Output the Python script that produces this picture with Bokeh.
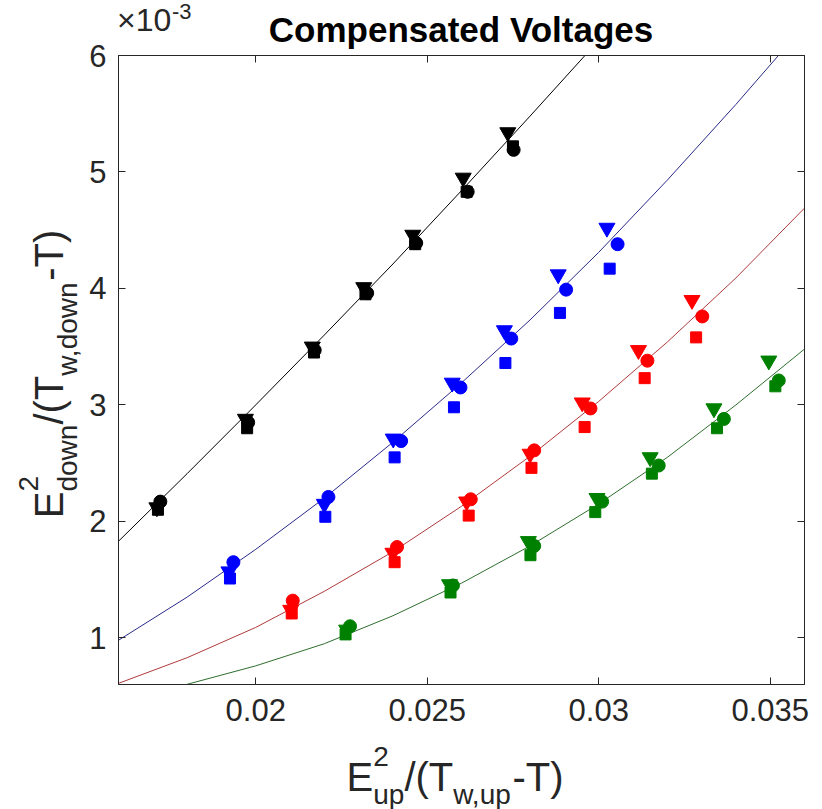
from bokeh.plotting import figure
from bokeh.models import Range1d, FixedTicker, LinearAxis, Div
from bokeh.layouts import column, row
from bokeh.embed import file_html
from bokeh.resources import INLINE

# ---------------- data (y values in units of 1e-3) ----------------
x_ticks = [0.02, 0.025, 0.03, 0.035]
x_tick_labels = ["0.02", "0.025", "0.03", "0.035"]
y_ticks = [1, 2, 3, 4, 5, 6]
y_tick_labels = ["1", "2", "3", "4", "5", "6"]

# black series
blk_circ_x = [0.01722, 0.01978, 0.02172, 0.02325, 0.02468, 0.02618, 0.02752]
blk_circ_y = [2.17, 2.85, 3.47, 3.96, 4.39, 4.83, 5.19]
blk_tri_x = [0.01712, 0.01970, 0.02165, 0.02315, 0.02458, 0.02605, 0.02735]
blk_tri_y = [2.12, 2.88, 3.50, 4.01, 4.46, 4.95, 5.34]
blk_sq_x = [0.01715, 0.01975, 0.02170, 0.02320, 0.02465, 0.02615, 0.02750]
blk_sq_y = [2.10, 2.80, 3.45, 3.95, 4.38, 4.83, 5.22]
blk_fit_x = [0.016, 0.018, 0.020, 0.022, 0.024, 0.026, 0.028, 0.0296]
blk_fit_y = [1.83, 2.41, 3.00, 3.60, 4.21, 4.84, 5.48, 6.00]

# blue series
blu_circ_x = [0.01935, 0.02212, 0.02424, 0.02597, 0.02745, 0.02905, 0.03055]
blu_circ_y = [1.65, 2.21, 2.69, 3.15, 3.57, 3.99, 4.38]
blu_tri_x = [0.01922, 0.02200, 0.02401, 0.02573, 0.02725, 0.02882, 0.03024]
blu_tri_y = [1.57, 2.15, 2.71, 3.19, 3.64, 4.12, 4.52]
blu_sq_x = [0.01925, 0.02203, 0.02405, 0.02578, 0.02728, 0.02887, 0.03032]
blu_sq_y = [1.51, 2.04, 2.55, 2.98, 3.36, 3.79, 4.17]
blu_fit_x = [0.016, 0.018, 0.020, 0.022, 0.024, 0.026, 0.028, 0.030, 0.032, 0.034, 0.03524]
blu_fit_y = [0.98, 1.35, 1.76, 2.20, 2.68, 3.19, 3.73, 4.31, 4.93, 5.58, 6.00]

# red series
red_circ_x = [0.02108, 0.02412, 0.02627, 0.02812, 0.02976, 0.03142, 0.03302]
red_circ_y = [1.32, 1.78, 2.19, 2.61, 2.97, 3.38, 3.76]
red_tri_x = [0.02102, 0.02400, 0.02615, 0.02800, 0.02952, 0.03116, 0.03272]
red_tri_y = [1.24, 1.73, 2.17, 2.58, 3.02, 3.47, 3.90]
red_sq_x = [0.02105, 0.02405, 0.02621, 0.02804, 0.02959, 0.03134, 0.03284]
red_sq_y = [1.21, 1.65, 2.05, 2.46, 2.81, 3.23, 3.58]
red_fit_x = [0.016, 0.018, 0.020, 0.022, 0.024, 0.026, 0.028, 0.030, 0.032, 0.034, 0.036]
red_fit_y = [0.61, 0.83, 1.09, 1.40, 1.74, 2.13, 2.56, 3.03, 3.54, 4.09, 4.69]

# green series
grn_circ_x = [0.02275, 0.02575, 0.02812, 0.03010, 0.03175, 0.03365, 0.03525]
grn_circ_y = [1.10, 1.45, 1.79, 2.17, 2.48, 2.88, 3.21]
grn_tri_x = [0.02265, 0.02565, 0.02795, 0.02995, 0.03150, 0.03336, 0.03496]
grn_tri_y = [1.07, 1.46, 1.83, 2.20, 2.55, 2.97, 3.38]
grn_sq_x = [0.02262, 0.02568, 0.02801, 0.02990, 0.03155, 0.03345, 0.03515]
grn_sq_y = [1.03, 1.39, 1.71, 2.08, 2.41, 2.80, 3.16]
grn_fit_x = [0.01798, 0.020, 0.022, 0.024, 0.026, 0.028, 0.030, 0.032, 0.034, 0.036]
grn_fit_y = [0.60, 0.76, 0.95, 1.19, 1.47, 1.79, 2.15, 2.55, 3.00, 3.48]

title_text = "Compensated Voltages"
exp_base = "\u00d710"
exp_power = "-3"
xlabel_parts = [("n", "E"), ("ss", "2", "up"), ("n", "/(T"), ("sub", "w,up"), ("n", "-T)")]
ylabel_parts = [("n", "E"), ("ss", "2", "down"), ("n", "/(T"), ("sub", "w,down"), ("n", "-T)")]

# ---------------- figure ----------------
FONT = "Liberation Sans"
TXT = "#262626"

FIG_TOP = 36      # canvas y where the figure starts (overlaps the title strip)
fig = figure(width=736, height=750 - FIG_TOP, output_backend="svg", toolbar_location=None,
             x_range=Range1d(0.016, 0.036), y_range=Range1d(0.6, 6.0),
             min_border_left=32, min_border_right=18, min_border_top=55 - FIG_TOP,
             min_border_bottom=66, margin=0)
fig.background_fill_color = "white"
fig.border_fill_color = None
fig.grid.visible = False
fig.outline_line_color = TXT
fig.outline_line_width = 1


def style_axis(ax, ticks, labels):
    ax.ticker = FixedTicker(ticks=ticks)
    ax.axis_line_color = TXT
    ax.major_tick_line_color = TXT
    ax.major_tick_in = 7
    ax.major_tick_out = 0
    ax.minor_tick_line_color = None
    ax.major_label_text_font = FONT
    if labels is not None:
        ax.major_label_overrides = {t: l for t, l in zip(ticks, labels)}
        ax.major_label_text_color = TXT
        ax.major_label_text_font_size = "31px"
    else:
        ax.major_label_text_color = None
        ax.major_label_text_font_size = "1px"
        ax.major_label_standoff = 0


style_axis(fig.xaxis[0], x_ticks, x_tick_labels)
style_axis(fig.yaxis[0], y_ticks, y_tick_labels)
fig.xaxis[0].major_label_standoff = 14
fig.yaxis[0].major_label_standoff = 12

top_ax = LinearAxis()
style_axis(top_ax, x_ticks, None)
fig.add_layout(top_ax, "above")
right_ax = LinearAxis()
style_axis(right_ax, y_ticks, None)
fig.add_layout(right_ax, "right")

series = [
    ("#000000", "#000000", blk_fit_x, blk_fit_y, blk_sq_x, blk_sq_y, blk_tri_x, blk_tri_y, blk_circ_x, blk_circ_y),
    ("#0000ff", "#2a2a8a", blu_fit_x, blu_fit_y, blu_sq_x, blu_sq_y, blu_tri_x, blu_tri_y, blu_circ_x, blu_circ_y),
    ("#ff0000", "#b03a3a", red_fit_x, red_fit_y, red_sq_x, red_sq_y, red_tri_x, red_tri_y, red_circ_x, red_circ_y),
    ("#008000", "#2e6e2e", grn_fit_x, grn_fit_y, grn_sq_x, grn_sq_y, grn_tri_x, grn_tri_y, grn_circ_x, grn_circ_y),
]
for col, lcol, fx, fy, sx, sy, tx, ty, cx, cy in series:
    fig.line(fx, fy, line_color=lcol, line_width=1)
    fig.scatter(sx, sy, marker="square", size=11, fill_color=col, line_color=col)
    fig.scatter(tx, ty, marker="inverted_triangle", size=16, fill_color=col, line_color=col)
    fig.scatter(cx, cy, marker="circle", size=13, fill_color=col, line_color=col)

# ---------------- texts around the axes (HTML, absolutely placed) ----------------
W = {'E': 667, 'T': 611, '/': 278, '(': 333, ')': 333, '-': 333, 'w': 722, ',': 278,
     'u': 556, 'p': 556, 'd': 556, 'o': 556, 'n': 556, '2': 556}
ASC = 0.8465  # baseline offset from top of a line-height:1 box (Liberation Sans)


def tw(s, size):
    return sum(W.get(c, 556) for c in s) / 1000.0 * size


def span(txt, left, baseline, size, bold=False, color=TXT, align="left"):
    top = baseline - ASC * size
    weight = "bold" if bold else "normal"
    if align == "center":
        pos = f"left:{left - 300:.1f}px;width:600px;text-align:center;"
    else:
        pos = f"left:{left:.1f}px;"
    return (f'<span style="position:absolute;{pos}top:{top:.1f}px;'
            f'font-size:{size}px;line-height:1;white-space:nowrap;font-weight:{weight};'
            f'color:{color};font-family:\'{FONT}\';">{txt}</span>')


def rich_spans(parts, center, base, F, fs, drop, rise):
    widths = []
    for part in parts:
        if part[0] == "n":
            widths.append(tw(part[1], F))
        elif part[0] == "ss":
            widths.append(max(tw(part[1], fs), tw(part[2], fs)))
        else:
            widths.append(tw(part[1], fs))
    pos = center - sum(widths) / 2.0
    out = []
    for part, w in zip(parts, widths):
        if part[0] == "n":
            out.append(span(part[1], pos, base, F))
        elif part[0] == "ss":
            out.append(span(part[1], pos, base - rise, fs))
            out.append(span(part[2], pos, base + drop, fs))
        else:
            out.append(span(part[1], pos, base + drop, fs))
        pos += w
    return "".join(out)


def box(inner, w, h):
    return (f'<div style="position:relative;width:{w}px;height:{h}px;margin:0;padding:0;'
            f'background:transparent;">{inner}</div>')


# top strip: title and the exponent label (canvas y 0..50)
top_html = box(
    span(title_text, 461, 42, 35, bold=True, color="#000000", align="center")
    + span(exp_base, 117, 31, 32)
    + span(exp_power, 172, 20, 22),
    822, 50)
top_div = Div(text=top_html, width=822, height=50, margin=(0, 0, FIG_TOP - 50, 0))

# left strip: rotated y label (canvas x 0..86, y FIG_TOP..750)
yl = rich_spans(ylabel_parts, center=200, base=60, F=40, fs=28, drop=15, rise=24)
rot_top = (374 - FIG_TOP) - 50
rot = (f'<div style="position:absolute;left:-147px;top:{rot_top}px;width:400px;height:100px;'
       f'transform:rotate(-90deg);">{yl}</div>')
left_div = Div(text=box(rot, 86, 750 - FIG_TOP), width=86, height=750 - FIG_TOP, margin=0)

# bottom strip: x label (canvas y 750..809)
xl = rich_spans(xlabel_parts, center=455, base=41, F=40, fs=28, drop=14, rise=24)
bottom_div = Div(text=box(xl, 822, 59), width=822, height=59, margin=0)

layout = column(top_div, row(left_div, fig, spacing=0, margin=0), bottom_div,
                spacing=0, margin=0)

open("out.html", "w").write(file_html(layout, INLINE))
